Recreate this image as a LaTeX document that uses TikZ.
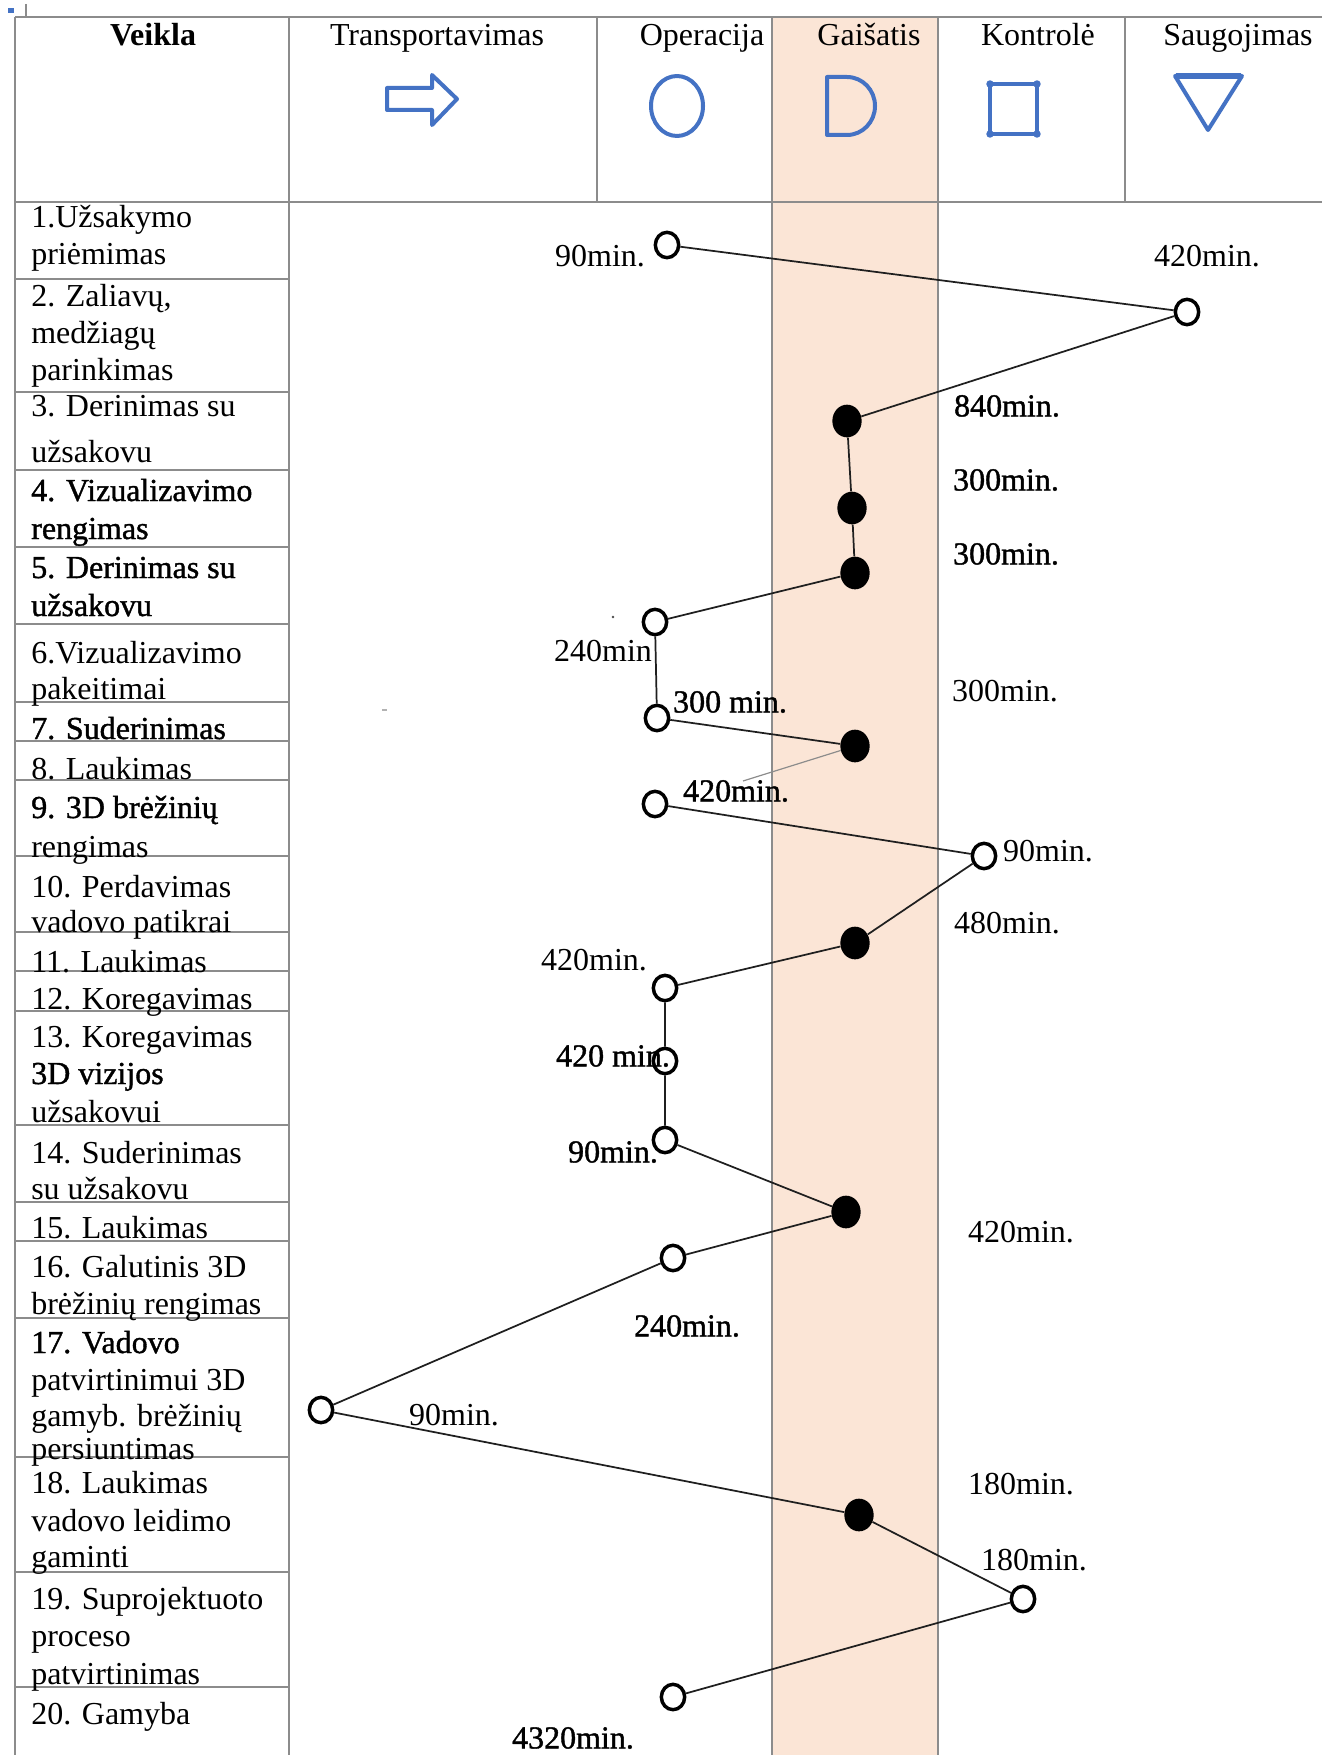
\documentclass[tikz,border=0pt]{standalone}
\usepackage{fontspec}
\setmainfont{Liberation Serif}
\newfontfamily\dkfont{Liberation Serif}[FakeBold=1.2]
\usetikzlibrary{shapes.geometric}
\definecolor{waitfill}{HTML}{FBE5D6}
\definecolor{icon}{HTML}{4472C4}
\definecolor{rule}{HTML}{8C8C8C}
\newcommand\fs{\fontsize{24pt}{28pt}\selectfont}
\pgfdeclarelayer{back}
\pgfdeclarelayer{mid}
\pgfsetlayers{back,mid,main}
\tikzset{
  txt/.style={font=\fs, inner sep=0pt, anchor=base west},
  hdr/.style={font=\fs, inner sep=0pt, anchor=base},
  lbl/.style={font=\fs, inner sep=0pt},
  opn/.style={ellipse, draw=black, line width=2.6pt, fill=white,
    minimum width=17.5pt, minimum height=19pt, inner sep=0pt},
  fld/.style={ellipse, fill=black, minimum width=22pt, minimum height=24.5pt, inner sep=0pt},
  link/.style={draw=black!88, line width=1.3pt},
  grid/.style={draw=rule, line width=1.5pt},
  ico/.style={draw=icon, line width=3pt, line join=round}
}
\newcommand\vt[3]{\node[txt] (#1) at (31,#2) {#3};}
\newcommand\vd[3]{\node[txt] (#1) at (31,#2) {\dkfont #3};}
\begin{document}
\begin{tikzpicture}[x=0.75pt,y=-0.75pt]
\useasboundingbox (0,0) rectangle (1322,1755);
\begin{pgfonlayer}{back}
  \fill[white] (0,0) rectangle (1322,1755);
  % waiting column
  \fill[waitfill] (772,17) rectangle (938,1755);
  % table frame
  \draw[grid] (15,17) -- (1322,17);
  \draw[grid, line width=2pt] (15,202) -- (1322,202);
  \foreach \x in {15,289,772,938} \draw[grid] (\x,17) -- (\x,1755);
  \foreach \x in {597,1125} \draw[grid] (\x,17) -- (\x,202);
  \foreach \y in {279,392,470,547,624,702,741,780,856,932,971,1011,1125,1202,1241,1318,1457,1572,1687}
    \draw[grid] (15,\y) -- (289,\y);
  % corner handle
  \fill[icon] (8,8) rectangle (14,13);
  \draw[rule, line width=0.8pt] (26,4) -- (26,17);
  \fill[black!70] (613,617) circle[radius=1pt];
  \fill[black!30] (382,709) rectangle (387,711);
\end{pgfonlayer}

% header
\node[hdr] (hVeikla) at (153,46) {\bfseries Veikla};
\node[hdr] (hTransp) at (437,46) {Transportavimas};
\node[hdr] (hOper) at (702,46) {Operacija};
\node[hdr] (hGais) at (869,46) {Gaišatis};
\node[hdr] (hKontr) at (1038,46) {Kontrolė};
\node[hdr] (hSaug) at (1238,46) {Saugojimas};

% header symbols
\draw[ico] (387,88) -- (432,88) -- (432,75) -- (457,99) -- (432,125) -- (432,110) -- (387,110) -- cycle;
\draw[ico] (677,106) ellipse[x radius=19.5pt, y radius=22.5pt];
\draw[ico] (847,77) -- (827,77) -- (827,135) -- (847,135)
  arc[start angle=-90, end angle=90, x radius=21pt, y radius=21.75pt] -- cycle;
\draw[ico] (990,84) rectangle (1037,134);
\foreach \p in {(990,84),(1037,84),(990,134),(1037,134)} \fill[icon] \p circle[radius=2.8pt];
\draw[ico] (1175,76) -- (1242,76) -- (1208,130) -- cycle;
\draw[icon, line width=4pt] (1176,76) -- (1241,76);

% activities
\vt{r1a}{228}{1.Užsakymo}
\vt{r1b}{265}{priėmimas}
\vt{r2a}{306}{2. Zaliavų,}
\vt{r2b}{343}{medžiagų}
\vt{r2c}{380}{parinkimas}
\vt{r3a}{416}{3. Derinimas su}
\vt{r3b}{462}{užsakovu}
\vd{r4a}{501}{4. Vizualizavimo}
\vd{r4b}{539}{rengimas}
\vd{r5a}{578}{5. Derinimas su}
\vd{r5b}{616}{užsakovu}
\vt{r6a}{663}{6.Vizualizavimo}
\vt{r6b}{699}{pakeitimai}
\vd{r7a}{739}{7. Suderinimas}
\vt{r8a}{779}{8. Laukimas}
\vd{r9a}{818}{9. 3D brėžinių}
\vt{r9b}{857}{rengimas}
\vt{r10a}{897}{10. Perdavimas}
\vt{r10b}{932}{vadovo patikrai}
\vt{r11a}{972}{11. Laukimas}
\vt{r12a}{1009}{12. Koregavimas}
\vt{r13a}{1047}{13. Koregavimas}
\vd{r13b}{1084}{3D vizijos}
\vt{r13c}{1122}{užsakovui}
\vt{r14a}{1163}{14. Suderinimas}
\vt{r14b}{1199}{su užsakovu}
\vt{r15a}{1238}{15. Laukimas}
\vt{r16a}{1277}{16. Galutinis 3D}
\vt{r16b}{1314}{brėžinių rengimas}
\vd{r17a}{1353}{17. Vadovo}
\vt{r17b}{1390}{patvirtinimui 3D}
\vt{r17c}{1426}{gamyb. brėžinių}
\vt{r17d}{1459}{persiuntimas}
\vt{r18a}{1493}{18. Laukimas}
\vt{r18b}{1531}{vadovo leidimo}
\vt{r18c}{1567}{gaminti}
\vt{r19a}{1609}{19. Suprojektuoto}
\vt{r19b}{1646}{proceso}
\vt{r19c}{1684}{patvirtinimas}
\vt{r20a}{1724}{20. Gamyba}

% process steps
\node[opn] (n1) at (667,245) {};
\node[opn] (n2) at (1187,312) {};
\node[fld] (n3) at (847,421) {};
\node[fld] (n4) at (852,508) {};
\node[fld] (n5) at (855,573) {};
\node[opn] (n6) at (655,622) {};
\node[opn] (n7) at (657,718) {};
\node[fld] (n8) at (855,746) {};
\node[opn] (n9) at (655,804) {};
\node[opn] (n10) at (984,856) {};
\node[fld] (n11) at (855,943) {};
\node[opn] (n12) at (665,988) {};
\node[opn] (n13) at (665,1061) {};
\node[opn] (n14) at (665,1140) {};
\node[fld] (n15) at (846,1212) {};
\node[opn] (n16) at (673,1258) {};
\node[opn] (n17) at (321,1410) {};
\node[fld] (n18) at (859,1515) {};
\node[opn] (n19) at (1023,1599) {};
\node[opn] (n20) at (673,1697) {};
\coordinate (c89) at (743,781);

\begin{pgfonlayer}{mid}
  \draw[link] (n1) -- (n2) -- (n3) -- (n4) -- (n5) -- (n6) -- (n7) -- (n8);
  \draw[draw=black!45, line width=0.9pt] (n8) -- (c89);
  \draw[link] (n9) -- (n10) -- (n11) -- (n12) -- (n13) -- (n14) -- (n15) -- (n16)
    -- (n17) -- (n18) -- (n19) -- (n20);
\end{pgfonlayer}

% durations
\node[lbl] (t1) at (600,256) {90min.};
\node[lbl] (t2) at (1207,256) {420min.};
\node[lbl] (t3) at (1007,406) {\dkfont 840min.};
\node[lbl] (t4) at (1006,480) {\dkfont 300min.};
\node[lbl] (t5) at (1006,554) {\dkfont 300min.};
\node[lbl] (t6) at (603,651) {240min};
\node[lbl] (t7) at (730,702) {\dkfont 300 min.};
\node[lbl] (t7b) at (1005,691) {300min.};
\node[lbl] (t8) at (736,791) {\dkfont 420min.};
\node[lbl] (t10) at (1048,851) {90min.};
\node[lbl] (t11) at (1007,923) {480min.};
\node[lbl] (t12) at (594,960) {420min.};
\node[lbl] (t13) at (613,1056) {\dkfont 420 min.};
\node[lbl] (t14) at (613,1152) {\dkfont 90min.};
\node[lbl] (t15) at (1021,1232) {420min.};
\node[lbl] (t16) at (687,1326) {\dkfont 240min.};
\node[lbl] (t17) at (454,1415) {90min.};
\node[lbl] (t18) at (1021,1484) {180min.};
\node[lbl] (t19) at (1034,1560) {180min.};
\node[lbl] (t20) at (573,1738) {\dkfont 4320min.};
\end{tikzpicture}
\end{document}
